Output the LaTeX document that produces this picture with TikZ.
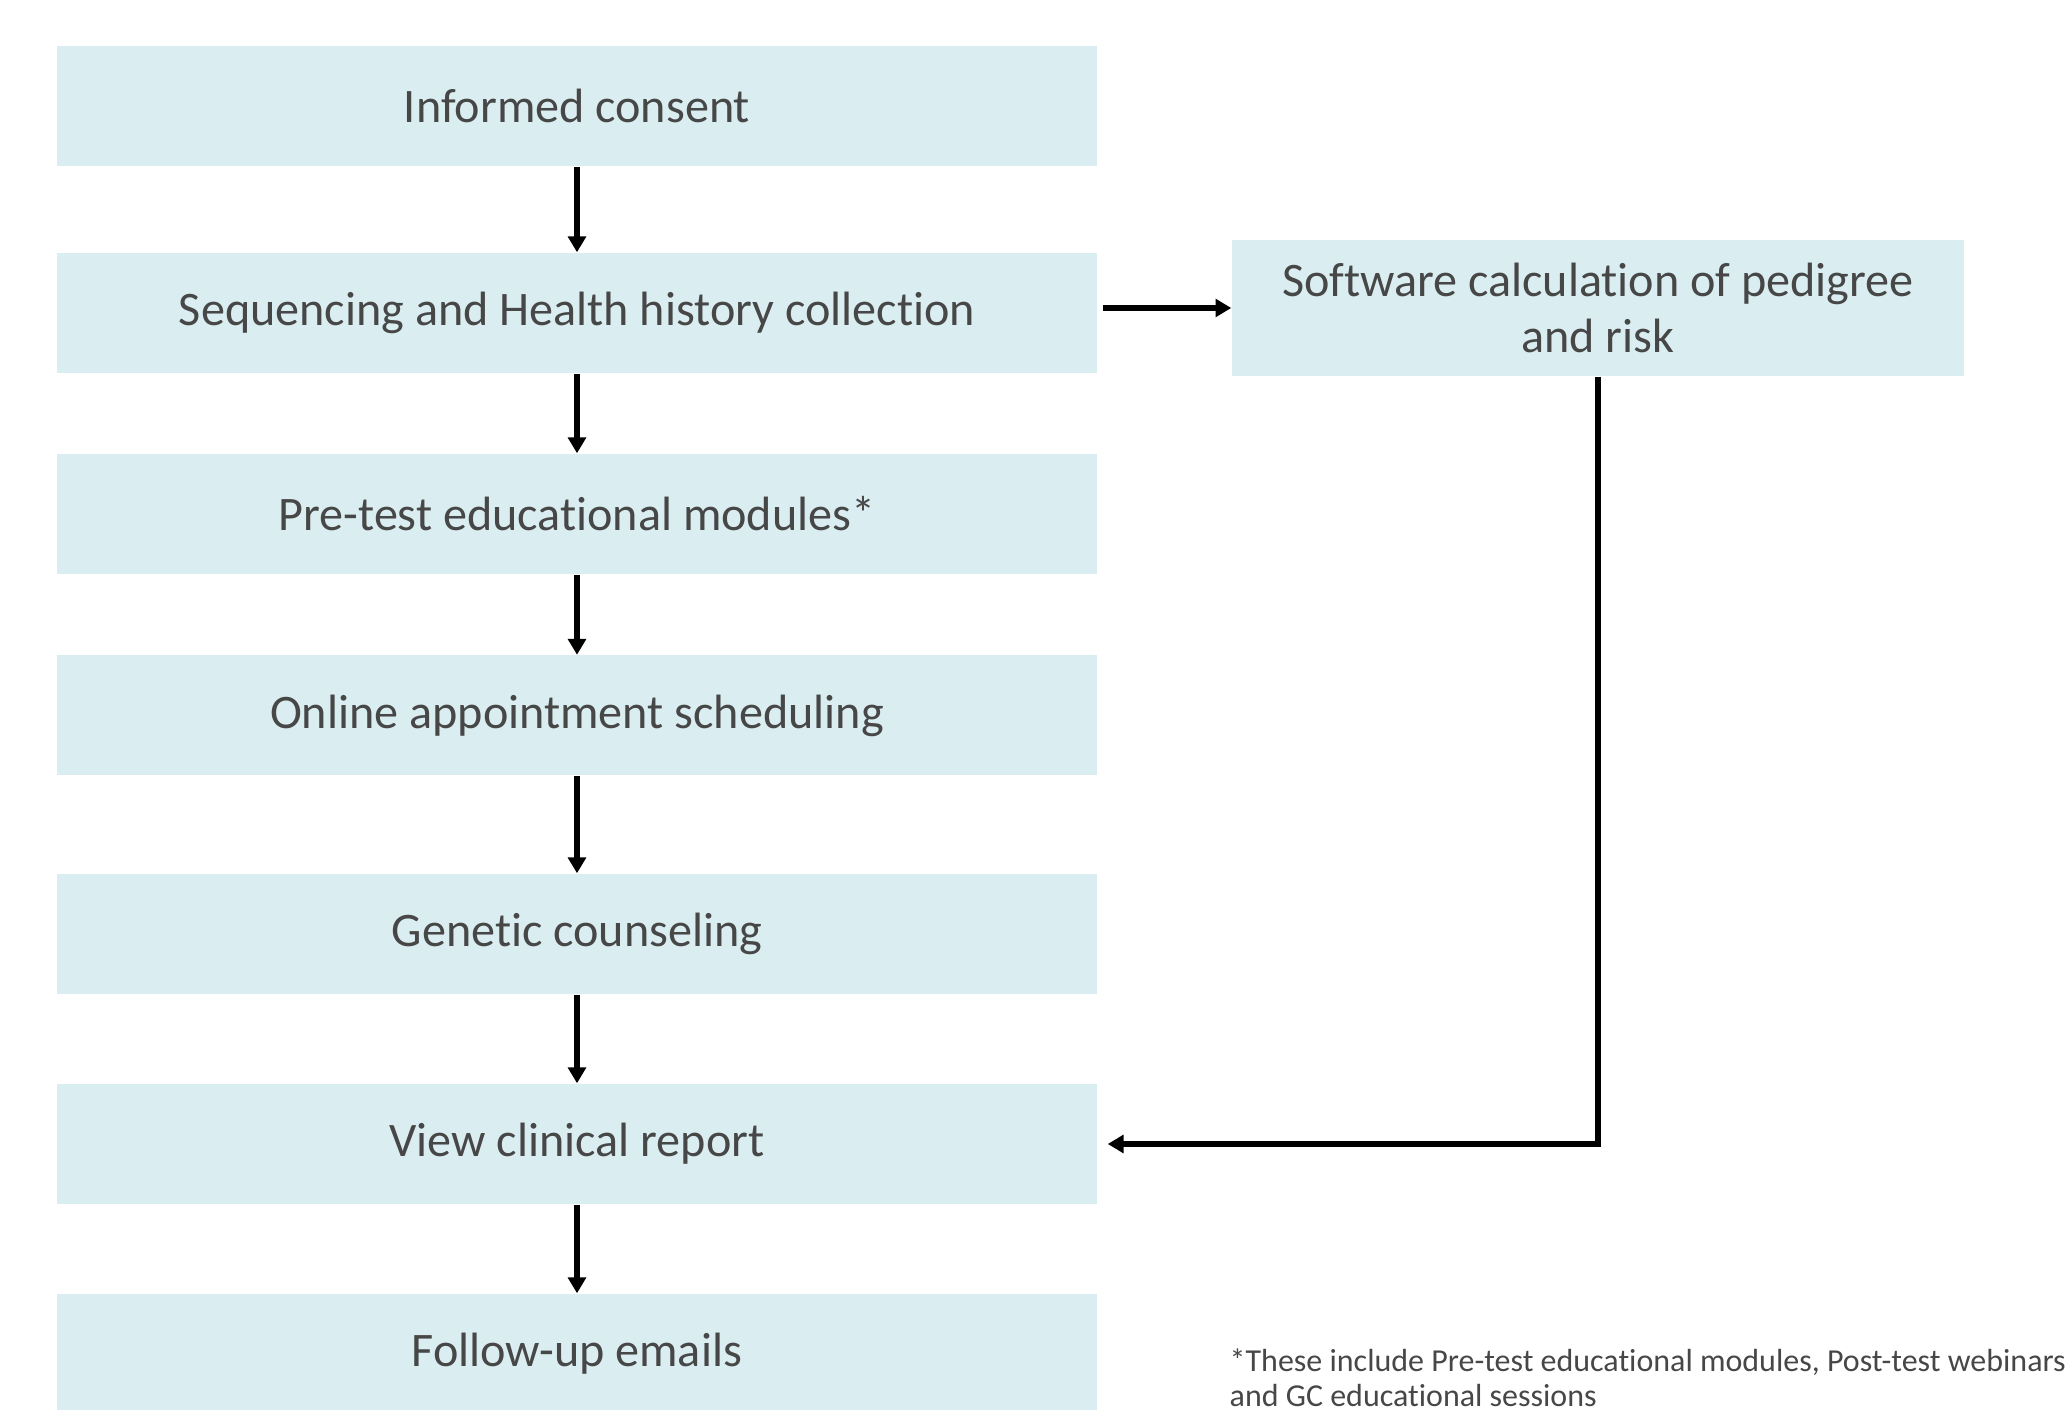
\documentclass[tikz,border=0pt]{standalone}
\usepackage{fontspec}
\setmainfont{Carlito}[Ligatures=NoCommon]
\usetikzlibrary{arrows.meta}
\definecolor{boxfill}{HTML}{DAEEF1}
\definecolor{boxtext}{HTML}{474747}
\begin{document}
\begin{tikzpicture}[
		stage/.style={fill=boxfill, text=boxtext, minimum width=10.4cm, minimum height=1.2cm, inner sep=0pt, font=\fontsize{13.7}{16.2}\selectfont},
		link/.style={line width=1.5pt, -{Triangle[length=4.5pt,width=5pt]}}
	]
		\useasboundingbox (0,0) rectangle (20.68,14.09);
		
		\node [stage] (consent) at (5.77,13.03) {Informed consent};
		\node [stage] (seq) at (5.77,10.96) {Sequencing and Health history collection};
		\node [stage] (pretest) at (5.77,8.95) {Pre-test educational modules*};
		\node [stage] (sched) at (5.77,6.935) {Online appointment scheduling};
		\node [stage] (gc) at (5.77,4.75) {Genetic counseling};
		\node [stage] (report) at (5.77,2.65) {View clinical report};
		\node [stage] (email) at (5.77,0.55) {Follow-up emails};
		
		\node [stage, minimum width=7.32cm, minimum height=1.36cm, align=center] (soft) at (15.98,11.01) {Software calculation of pedigree \\ and risk};
		
		\node [anchor=north west, inner sep=0pt, align=left, text=boxtext, font=\fontsize{9.1}{10}\selectfont] (note) at (12.29,0.61) {*These include Pre-test educational modules, Post-test webinars \\ and GC educational sessions};
		
		\begin{scope}[link]
			\draw (consent) -- (seq);
			\draw (seq) -- (pretest);
			\draw (pretest) -- (sched);
			\draw (sched) -- (gc);
			\draw (gc) -- (report);
			\draw (report) -- (email);
			\draw ([xshift=0.5mm]seq.east |- soft) -- (soft.west);
			\draw (soft.south) |- ([xshift=1mm]report.east);
		\end{scope}
	\end{tikzpicture}
\end{document}
